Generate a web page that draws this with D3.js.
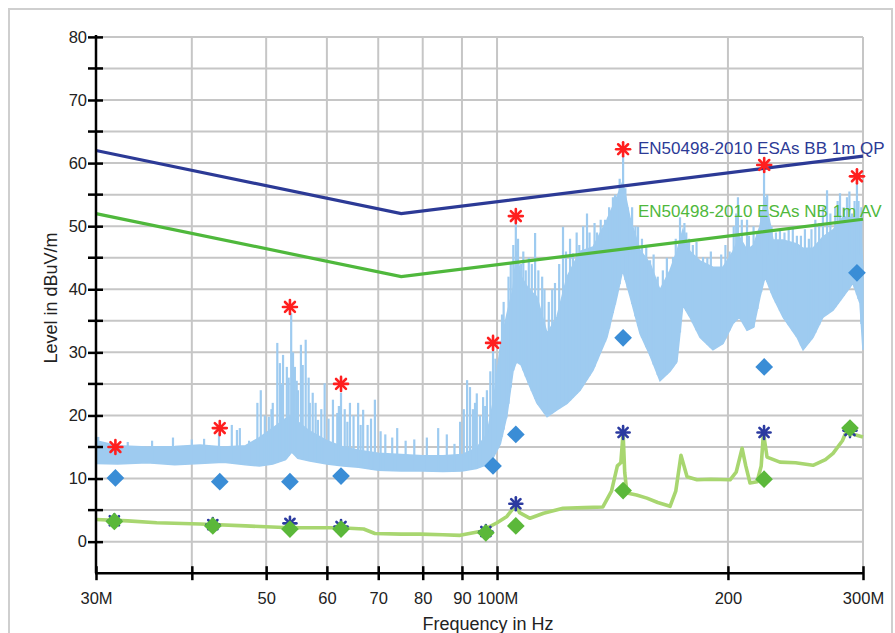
<!DOCTYPE html>
<html>
<head>
<meta charset="utf-8">
<script src="https://cdn.jsdelivr.net/npm/d3@7"></script>
<style>
  html, body { margin: 0; padding: 0; background: #fff; }
  svg { display: block; font-family: "Liberation Sans", Arial, sans-serif; }
</style>
</head>
<body>
<svg id="chart" width="895" height="633"></svg>
<script>
// ---------------- DATA ----------------
const xTickValues = [30, 40, 50, 60, 70, 80, 90, 100, 200, 300];
const xTickLabels = ["30M", "", "50", "60", "70", "80", "90", "100M", "200", "300M"];
const yTickValues = [0, 10, 20, 30, 40, 50, 60, 70, 80];
const yMinorTicks = [5, 15, 25, 35, 45, 55, 65, 75];

// Limit lines (frequency MHz, level dBuV/m)
const limitQP = [[30, 62], [75, 52], [300, 61.1]];
const limitAV = [[30, 52], [75, 42], [300, 51.1]];
const limitQPLabel = "EN50498-2010 ESAs BB 1m QP";
const limitAVLabel = "EN50498-2010 ESAs NB 1m AV";

// Peak scan: [frequency, lower edge, upper edge] of dense noise band
const peakBand = [
  [30, 12.4, 16.0], [32, 12.3, 15.2], [35, 12.5, 15.0], [38, 12.2, 15.1],
  [41, 12.4, 15.3], [44, 12.6, 15.0], [47, 12.2, 15.2], [49, 12.0, 16.5],
  [51, 12.3, 18.0], [53, 13.0, 19.5], [54, 14.2, 20.0], [55, 13.2, 19.0],
  [57, 12.8, 17.5], [60, 12.3, 16.0], [63, 12.0, 15.0], [66, 11.8, 14.5],
  [70, 11.3, 14.0], [75, 11.2, 13.8], [80, 11.2, 13.6], [85, 11.1, 13.6],
  [90, 11.2, 13.8], [94, 11.6, 14.8], [97, 12.2, 17.0], [99, 13.5, 22.5],
  [101, 15.5, 31.0], [103, 20.0, 36.0], [104.9, 27.0, 40.0], [106, 28.5, 46.0],
  [107.5, 28.0, 42.0], [110, 25.0, 40.0], [112.7, 22.0, 38.8], [116.2, 19.8, 33.0],
  [119.7, 20.9, 35.6], [123.4, 21.9, 42.0], [128.3, 24.0, 46.0], [133.4, 27.2, 46.7],
  [139.1, 32.4, 51.0], [143.3, 38.8, 54.6], [145.8, 43.0, 57.0], [149, 39.0, 51.4],
  [153.6, 33.0, 46.2], [158.3, 29.5, 44.1], [163.1, 25.5, 39.9], [168.1, 27.0, 43.0],
  [171.6, 28.5, 46.0], [174.7, 37.5, 49.4], [178.4, 35.6, 46.0], [183.9, 32.4, 44.5],
  [191.2, 30.4, 43.5], [197.1, 31.4, 43.5], [203.1, 34.6, 46.0], [207, 35.6, 48.3],
  [211.8, 33.5, 46.2], [216, 34.0, 47.0], [220.2, 38.8, 50.0], [223.6, 42.0, 54.6],
  [229, 38.8, 47.8], [236, 35.6, 47.8], [246.1, 32.4, 47.2], [250.6, 30.4, 46.5],
  [258.2, 32.4, 46.5], [266.1, 35.6, 48.3], [274.2, 36.7, 49.4], [282.5, 38.8, 51.4],
  [291.1, 41.0, 51.4], [297.3, 37.8, 51.0], [300, 30.4, 43.0]
];

// Peak scan: individual spikes [frequency, top level]
const peakSpikes = [
  [30.2, 16.6], [33, 15.8], [35.5, 16.0], [37.8, 16.5], [40, 16.2], [41.5, 16.3],
  [43.4, 17.2], [45.1, 18.5], [45.8, 17.7], [46.2, 18.0], [47.5, 16.0],
  [48.7, 22.0], [49.2, 24.0], [49.8, 20.0], [50.4, 19.8], [50.8, 21.0], [51.0, 22.0],
  [51.7, 31.5], [52.1, 28.3], [52.3, 25.0], [52.6, 29.6], [53.2, 27.7], [53.5, 26.0],
  [53.9, 36.2], [54.2, 30.0], [54.5, 27.7], [54.8, 25.5], [55.0, 24.0], [55.5, 31.2],
  [55.8, 28.0], [56.3, 32.0], [56.8, 26.0], [57.0, 22.0], [57.5, 23.6], [58.0, 22.0],
  [58.4, 19.3], [59.0, 21.0], [59.6, 25.1], [60.3, 19.5], [61.1, 22.5], [61.9, 20.4],
  [62.2, 21.5], [62.6, 23.6], [63.3, 21.0], [63.8, 19.0], [64.3, 22.0], [65.0, 20.0],
  [65.9, 22.0], [66.4, 18.5], [66.9, 20.9], [67.8, 18.5], [68.5, 19.5], [69.3, 22.5],
  [70.5, 17.5], [71.5, 17.0], [73, 16.5], [74.1, 18.0], [76, 16.0], [78, 16.2],
  [81, 16.5], [83.8, 18.0], [86, 17.0], [88, 15.5], [89.5, 19.0], [90.5, 21.0],
  [91.4, 25.6], [92.2, 24.5], [93, 21.0], [93.6, 22.0], [94.1, 23.5], [95, 20.0],
  [95.9, 22.9], [96.5, 21.5], [97.0, 24.0], [98, 27.0], [98.8, 31.2], [99.5, 29.0],
  [100.3, 28.0], [101.5, 36.0], [102, 38.0], [102.8, 35.0], [103.5, 42.0], [104.2, 44.0],
  [105, 47.0], [105.8, 50.5], [106.5, 48.0], [107.5, 44.0], [108.2, 46.0], [109, 43.0],
  [110, 45.0], [111, 44.0], [112.1, 48.9], [113.2, 43.0], [114.5, 42.0], [115.3, 40.0],
  [116.8, 38.0], [118, 40.0], [119, 41.0], [120.5, 44.0], [121.9, 49.9], [123, 46.0],
  [124.5, 48.0], [125.6, 45.7], [127, 49.0], [128, 47.0], [129.5, 50.0], [131.0, 52.0],
  [132, 49.0], [134, 50.5], [135, 49.0], [136.5, 51.0], [138.3, 51.0], [140, 53.0],
  [141.6, 54.6], [142.5, 55.0], [144.5, 57.5], [146, 61.0], [147, 56.0], [148, 53.0],
  [150, 53.0], [151.5, 50.0], [152.7, 49.9], [154.5, 48.0], [156.5, 47.0], [158.3, 44.6],
  [160, 45.5], [162, 42.0], [164.5, 43.0], [166.5, 45.0], [169.6, 45.1], [171, 48.0],
  [173.2, 51.4], [175.5, 50.5], [176.5, 49.0], [178, 48.0], [180, 47.0], [182, 47.5],
  [185.6, 45.1], [188, 45.0], [190, 46.0], [194.1, 43.5], [196, 45.5], [198.5, 47.0],
  [201, 46.0], [203.5, 50.0], [205, 52.0], [206.1, 54.6], [208.5, 51.0], [211.8, 51.0],
  [213, 48.5], [216, 50.0], [218.5, 49.0], [221, 52.5], [222.9, 59.4], [225, 55.0],
  [226.9, 50.4], [228, 50.0], [231, 49.0], [233.8, 49.4], [237, 49.0], [240, 49.5],
  [243, 50.0], [246, 48.5], [249, 48.5], [252, 49.5], [255, 48.0], [257, 49.5],
  [260, 51.0], [263, 50.5], [266, 53.0], [269.3, 55.7], [272, 52.0], [276, 53.0],
  [278, 54.0], [280.0, 55.2], [283, 53.0], [285.9, 54.6], [288, 55.5], [290.3, 52.0],
  [292.5, 54.0], [294.6, 56.8], [296, 54.0], [298.5, 53.0]
];

// Average scan trace [frequency, level]
const avgTrace = [
  [30, 3.5], [33, 3.3], [36, 3.0], [41, 2.8], [47, 2.5], [53.7, 2.2], [62.4, 2.2],
  [67, 2.0], [69.3, 1.3], [75, 1.2], [79.4, 1.2], [85, 1.1], [89.5, 1.0], [95, 1.6],
  [100, 3.0], [103, 4.0], [105.8, 5.8], [107, 4.6], [110.4, 3.7], [115, 4.5],
  [121.9, 5.3], [130, 5.4], [137.4, 5.5], [141, 8.0], [143.5, 12.0], [145, 12.5],
  [146, 17.2], [146.7, 11.0], [147.7, 7.7], [152, 7.4], [156.8, 6.9], [162, 6.2],
  [168.1, 5.6], [171, 8.0], [173.7, 13.7], [176.9, 10.3], [182.3, 9.8], [190, 9.9],
  [201.3, 9.8], [205, 11.0], [208.7, 14.8], [211, 12.0], [213.7, 9.3], [218.3, 9.5],
  [221, 12.0], [222.5, 17.2], [224.9, 13.4], [233.8, 12.6], [245, 12.5], [258.2, 12.1],
  [268, 13.0], [274.2, 14.0], [282, 16.0], [285.9, 17.7], [292, 17.0], [300, 16.6]
];

// Final measurement points
const qpFreq  = [31.8, 43.5, 53.7, 62.6, 98.8, 105.8, 146.0, 223.0, 294.6];
const qpPeak  = [15.0, 18.0, 37.2, 25.0, 31.5, 51.6, 62.2, 59.7, 57.9];   // red stars
const qpFinal = [10.1, 9.5, 9.5, 10.4, 12.0, 17.0, 32.3, 27.7, 42.6];     // blue diamonds

const avFreq  = [31.7, 42.6, 53.7, 62.6, 96.7, 105.8, 146.0, 222.9, 288.5];
const avPeak  = [3.3, 2.7, 2.9, 2.4, 1.6, 6.0, 17.3, 17.3, 17.6];         // dark blue stars
const avFinal = [3.2, 2.5, 2.0, 2.0, 1.4, 2.5, 8.1, 9.9, 18.0];           // green diamonds

// ---------------- DRAWING ----------------
const svg = d3.select("#chart");
const x = d3.scaleLog().domain([30, 300]).range([96, 863]);
const y = d3.scaleLinear().domain([-5, 80]).range([573.2, 36.9]);

const C = {
  grid: "#c6c6c6", peak: "#9ecbf0", qpDia: "#3a8dd6", red: "#ff1f1f",
  avStar: "#2b3aa0", avDia: "#5bb83a", avg: "#a8d670",
  limQP: "#2c3a96", limAV: "#4fb83c"
};

// frame
svg.append("rect").attr("x", 9).attr("y", 9).attr("width", 883).attr("height", 640)
  .attr("fill", "none").attr("stroke", "#cfcfcf").attr("stroke-width", 2);

// grid
const grid = svg.append("g");
grid.selectAll("line.h").data(d3.range(0, 81, 5)).join("line")
  .attr("x1", x(30)).attr("x2", x(300)).attr("y1", d => y(d)).attr("y2", d => y(d))
  .attr("stroke", C.grid).attr("stroke-width", 2);
grid.selectAll("line.v").data(xTickValues.slice(1)).join("line")
  .attr("x1", d => x(d)).attr("x2", d => x(d)).attr("y1", y(80)).attr("y2", y(-5))
  .attr("stroke", C.grid).attr("stroke-width", 2);

// clip
svg.append("clipPath").attr("id", "plotclip").append("rect")
  .attr("x", x(30)).attr("y", y(80) - 20).attr("width", x(300) - x(30) + 1).attr("height", y(-5) - y(80) + 20);
const plot = svg.append("g").attr("clip-path", "url(#plotclip)");

// peak band
const bandArea = d3.area().x(d => x(d[0])).y0(d => y(d[1])).y1(d => y(d[2]));
plot.append("path").datum(peakBand).attr("d", bandArea)
  .attr("fill", C.peak).attr("stroke", C.peak).attr("stroke-width", 1.5);

// spikes (from band lower edge up to the spike top)
const bis = d3.bisector(d => d[0]).left;
function lowAt(f) {
  let i = bis(peakBand, f);
  if (i <= 0) return peakBand[0][1];
  if (i >= peakBand.length) return peakBand[peakBand.length - 1][1];
  const a = peakBand[i - 1], b = peakBand[i];
  const t = (Math.log(f) - Math.log(a[0])) / (Math.log(b[0]) - Math.log(a[0]));
  return a[1] + t * (b[1] - a[1]);
}
plot.selectAll("line.spike").data(peakSpikes).join("line")
  .attr("x1", d => x(d[0])).attr("x2", d => x(d[0]))
  .attr("y1", d => y(lowAt(d[0]))).attr("y2", d => y(d[1]))
  .attr("stroke", C.peak).attr("stroke-width", 2.2);

// average trace
plot.append("path").datum(avgTrace)
  .attr("d", d3.line().x(d => x(d[0])).y(d => y(d[1])))
  .attr("fill", "none").attr("stroke", C.avg).attr("stroke-width", 3.6).attr("stroke-linejoin", "round");

// limit lines
const lim = d3.line().x(d => x(d[0])).y(d => y(d[1]));
svg.append("path").datum(limitQP).attr("d", lim).attr("fill", "none")
  .attr("stroke", C.limQP).attr("stroke-width", 3.2);
svg.append("path").datum(limitAV).attr("d", lim).attr("fill", "none")
  .attr("stroke", C.limAV).attr("stroke-width", 3.2);

svg.append("text").attr("x", 638).attr("y", 153.5).attr("font-size", 17)
  .attr("fill", C.limQP).text(limitQPLabel);
svg.append("text").attr("x", 638).attr("y", 216.5).attr("font-size", 17)
  .attr("fill", C.limAV).text(limitAVLabel);

// markers
function star(g, cx, cy, r, color, w) {
  [0, 45, 90, 135].forEach(a => {
    const rad = a * Math.PI / 180;
    g.append("line")
      .attr("x1", cx - r * Math.cos(rad)).attr("y1", cy - r * Math.sin(rad))
      .attr("x2", cx + r * Math.cos(rad)).attr("y2", cy + r * Math.sin(rad))
      .attr("stroke", color).attr("stroke-width", w).attr("stroke-linecap", "round");
  });
  g.append("circle").attr("cx", cx).attr("cy", cy).attr("r", r * 0.45).attr("fill", color);
}
const mk = svg.append("g");
avFreq.forEach((f, i) => star(mk, x(f), y(avPeak[i]), 6.5, C.avStar, 2.6));
const diamond = d3.symbol().type(d3.symbolDiamond2).size(200);
mk.selectAll("path.avd").data(avFreq).join("path")
  .attr("transform", (f, i) => `translate(${x(f)},${y(avFinal[i])})`)
  .attr("d", diamond).attr("fill", C.avDia);
mk.selectAll("path.qpd").data(qpFreq).join("path")
  .attr("class", "qpd")
  .attr("transform", (f, i) => `translate(${x(f)},${y(qpFinal[i])})`)
  .attr("d", diamond).attr("fill", C.qpDia);
qpFreq.forEach((f, i) => star(mk, x(f), y(qpPeak[i]), 7, C.red, 2.6));

// axes
const yAxis = d3.axisLeft(y).tickValues(yTickValues).tickSize(8).tickPadding(1).tickSizeOuter(0)
  .tickFormat(d3.format("d"));
const gy = svg.append("g").attr("transform", `translate(${x(30)},0)`).call(yAxis);
gy.selectAll(".tick line").attr("x1", -8).attr("x2", 7).attr("stroke-width", 2.5).attr("stroke", "#000");
gy.select(".domain").attr("stroke-width", 2.5).attr("stroke", "#000")
  .attr("d", `M0,${y(80) - 2}V${y(-5)}`);
gy.selectAll(".tick text").attr("font-size", 16.5).attr("fill", "#222")
  .attr("font-family", "'Liberation Sans', Arial, sans-serif");
gy.selectAll("line.minor").data(yMinorTicks).join("line")
  .attr("x1", -8).attr("x2", 7).attr("y1", d => y(d)).attr("y2", d => y(d))
  .attr("stroke", "#000").attr("stroke-width", 2.5);

const xAxis = d3.axisBottom(x).tickValues(xTickValues).tickSize(7).tickPadding(12).tickSizeOuter(0)
  .tickFormat((d, i) => xTickLabels[i]);
const gx = svg.append("g").attr("transform", `translate(0,${y(-5)})`).call(xAxis);
gx.selectAll(".tick line").attr("y1", -7).attr("y2", 7).attr("stroke-width", 2.5).attr("stroke", "#000");
gx.select(".domain").attr("stroke-width", 2.5).attr("stroke", "#000")
  .attr("d", `M${x(30) - 1},0H${x(300) + 1}`);
gx.selectAll(".tick text").attr("font-size", 16.5).attr("fill", "#222")
  .attr("font-family", "'Liberation Sans', Arial, sans-serif");

// axis titles
svg.append("text").attr("x", 488).attr("y", 630).attr("text-anchor", "middle")
  .attr("font-size", 18).attr("fill", "#222").text("Frequency in Hz");
svg.append("text").attr("transform", "translate(57,298) rotate(-90)").attr("text-anchor", "middle")
  .attr("font-size", 18).attr("fill", "#222").text("Level in dBuV/m");
</script>
</body>
</html>
